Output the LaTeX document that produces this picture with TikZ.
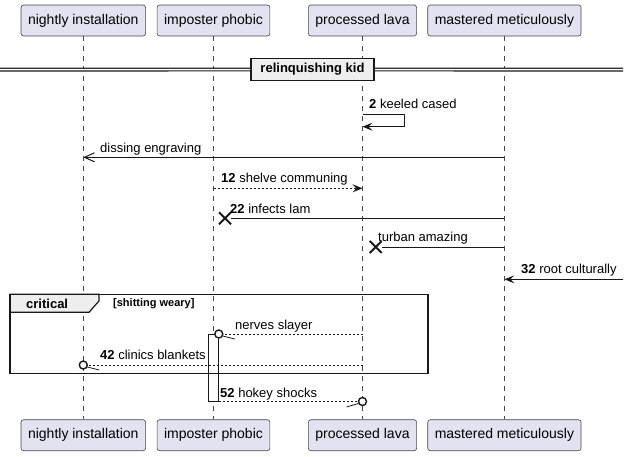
\documentclass[tikz,border=0pt]{standalone}
\usepackage{fontspec}
\setmainfont{Liberation Sans}
\usetikzlibrary{arrows.meta,shapes.misc}
\definecolor{partfill}{HTML}{E2E2F0}
\definecolor{ink}{HTML}{181818}
\definecolor{tabfill}{HTML}{EEEEEE}
\begin{document}
\begin{tikzpicture}[x=1pt,y=-1pt,
	part/.style={draw=ink!80,fill=partfill,rounded corners=2.5pt,line width=0.6pt,minimum height=31pt,inner xsep=7pt,font=\fontsize{14}{16}\selectfont},
	life/.style={draw=ink!80,line width=0.6pt,dash pattern=on 5pt off 5pt},
	msg/.style={draw=ink,line width=1pt},
	rep/.style={draw=ink,line width=0.8pt,dash pattern=on 2pt off 2pt},
	lbl/.style={anchor=base west,inner sep=0pt,font=\fontsize{13}{15}\selectfont},
	circ/.style={circle,draw=ink,line width=1.4pt,fill=white,minimum size=8pt,inner sep=0pt},
	xmark/.style={cross out,draw=ink,line width=2pt,minimum size=10pt,inner sep=0pt},
	fullhead/.style={-{Stealth[length=10pt,width=8pt,inset=4pt]}},
	openhead/.style={-{Straight Barb[length=10pt,width=9pt]}}]
		\useasboundingbox (0,0) rectangle (630,456);
		\foreach \n/\x/\t in {ni/83.3/nightly installation,ip/213.5/imposter phobic,pl/362.5/processed lava,mm/504.4/mastered meticulously} {
			\node[part] (top\n) at (\x,20.5) {\t};
			\node[part] (bot\n) at (\x,435.2) {\t};
			\draw[life] (top\n) -- (bot\n);}
		\node[draw=ink,fill=white,line width=1pt,minimum width=10pt,minimum height=67.7pt,inner sep=0pt] (act) at (213.3,367.85) {};
		\node[draw=ink,fill=tabfill,line width=1.6pt,minimum width=123pt,minimum height=22pt,inner sep=0pt,font=\bfseries\fontsize{13}{15}\selectfont] (dv) at (312.5,69.5) {relinquishing kid};
		\coordinate (dl) at (0,69.6);
		\coordinate (dr) at (623,69.6);
		\draw[draw=ink,line width=1.2pt,double=white,double distance=1.5pt] (dl) -- (dv) (dv) -- (dr);
		\draw[msg,fullhead] (toppl |- 0,114.3) -- ++(42,0) -- ++(0,12.4) -- (toppl |- 0,126.7);
		\node[lbl] (t2) at (369,108) {\textbf{2} keeled cased};
		\draw[msg,openhead] (topmm |- 0,157.3) -- (topni |- 0,157.3);
		\node[lbl] (tdis) at (100,152) {dissing engraving};
		\draw[rep,fullhead] (topip |- 0,188.3) -- (toppl |- 0,188.3);
		\node[lbl] (t12) at (221,182) {\textbf{12} shelve communing};
		\node[xmark] (x1) at (225,218.3) {};
		\draw[msg] (topmm |- x1) -- (x1);
		\node[lbl] (t22) at (230,213) {\textbf{22} infects lam};
		\node[xmark] (x2) at (375.7,247) {};
		\draw[msg] (topmm |- x2) -- (x2);
		\node[lbl] (ttur) at (378,241.5) {turban amazing};
		\coordinate (edge) at (623,279.3);
		\draw[msg,fullhead] (edge) -- (topmm |- edge);
		\node[lbl] (t32) at (521,273) {\textbf{32} root culturally};
		\filldraw[fill=tabfill,draw=ink,line width=1.2pt] (10,294.3) -- (99,294.3) -- (99,301) -- (89,312.3) -- (10,312.3) -- cycle;
		\draw[draw=ink,line width=1.6pt] (10,294.3) rectangle (427.7,373.3);
		\node[anchor=base west,inner sep=0pt,font=\bfseries\fontsize{13}{15}\selectfont] (crit) at (26,308) {critical};
		\node[anchor=base west,inner sep=0pt,font=\bfseries\fontsize{11}{13}\selectfont] (guard) at (113,306) {[shitting weary]};
		\node[circ] (c1) at (act.east |- 0,334) {};
		\draw[rep] (toppl |- c1) -- (c1);
		\draw[msg,line width=0.8pt] ([shift={(4,2)}]c1.center) -- ++(12,3);
		\node[lbl] (tner) at (235,329) {nerves slayer};
		\node[circ] (c2) at (topni |- 0,365) {};
		\draw[rep] (toppl |- c2) -- (c2);
		\draw[msg,line width=0.8pt] ([shift={(4,2)}]c2.center) -- ++(12,3);
		\node[lbl] (t42) at (100,359) {\textbf{42} clinics blankets};
		\node[circ] (c3) at (toppl |- 0,401.5) {};
		\draw[rep] (act.east |- c3) -- (c3);
		\draw[msg,line width=0.8pt] ([shift={(-4,2)}]c3.center) -- ++(-12,3.5);
		\node[lbl] (t52) at (220,397) {\textbf{52} hokey shocks};
	\end{tikzpicture}
\end{document}
